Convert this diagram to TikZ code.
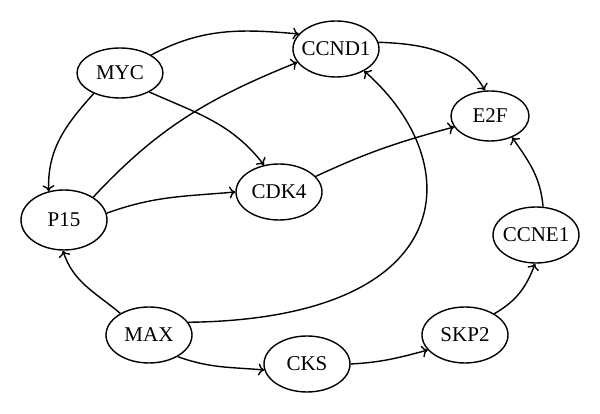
\documentclass[tikz,border=0pt]{standalone}
\usepackage{fontspec}
\setmainfont{Liberation Serif}
\usetikzlibrary{arrows.meta,shapes.geometric}
\begin{document}
\begin{tikzpicture}[x=1pt,y=1pt,
  gene/.style={ellipse,draw,line width=1.4pt,minimum width=86pt,minimum height=56pt,inner xsep=-10pt,inner ysep=0pt,font=\fontsize{21}{21}\selectfont},
  link/.style={line width=1.4pt,-{Computer Modern Rightarrow[length=6pt,width=12pt]}}]
\useasboundingbox (0,0) rectangle (600,414);
\node[gene,minimum height=50pt] (myc) at (120,341) {MYC};
\node[gene] (ccnd1) at (336,365) {CCND1};
\node[gene,minimum width=78pt,minimum height=50pt] (e2f) at (490,298) {E2F};
\node[gene,minimum height=60pt] (p15) at (64,194) {P15};
\node[gene] (cdk4) at (279,222) {CDK4};
\node[gene] (ccne1) at (536,179) {CCNE1};
\node[gene] (max) at (149,79) {MAX};
\node[gene] (cks) at (307,50) {CKS};
\node[gene] (skp2) at (465,79) {SKP2};
\draw[link] (myc.30) to[out=28,in=175] (ccnd1.158);
\draw[link] (myc.-33) to[out=-24,in=128] (cdk4.119);
\draw[link] (myc.218) to[out=228,in=92] (p15.118);
\draw[link] (p15.38) to[out=47,in=202] (ccnd1.199);
\draw[link] (p15.9) to[out=20,in=185] (cdk4.west);
\draw[link] (cdk4.23) to[out=25,in=195] (e2f.197);
\draw[link] (ccnd1.9) to[out=-2,in=120] (e2f.101);
\draw[link] (max.143) to[out=140,in=-72] (p15.268);
\draw[link] (max.18) .. controls (460,95) and (470,250) .. (ccnd1.-38);
\draw[link] (max.-37) to[out=-20,in=175] (cks.188);
\draw[link] (cks.east) to[out=3,in=195] (skp2.202);
\draw[link] (skp2.36) to[out=30,in=-110] (ccne1.268);
\draw[link] (ccne1.76) to[out=95,in=-55] (e2f.-44);
\end{tikzpicture}
\end{document}
